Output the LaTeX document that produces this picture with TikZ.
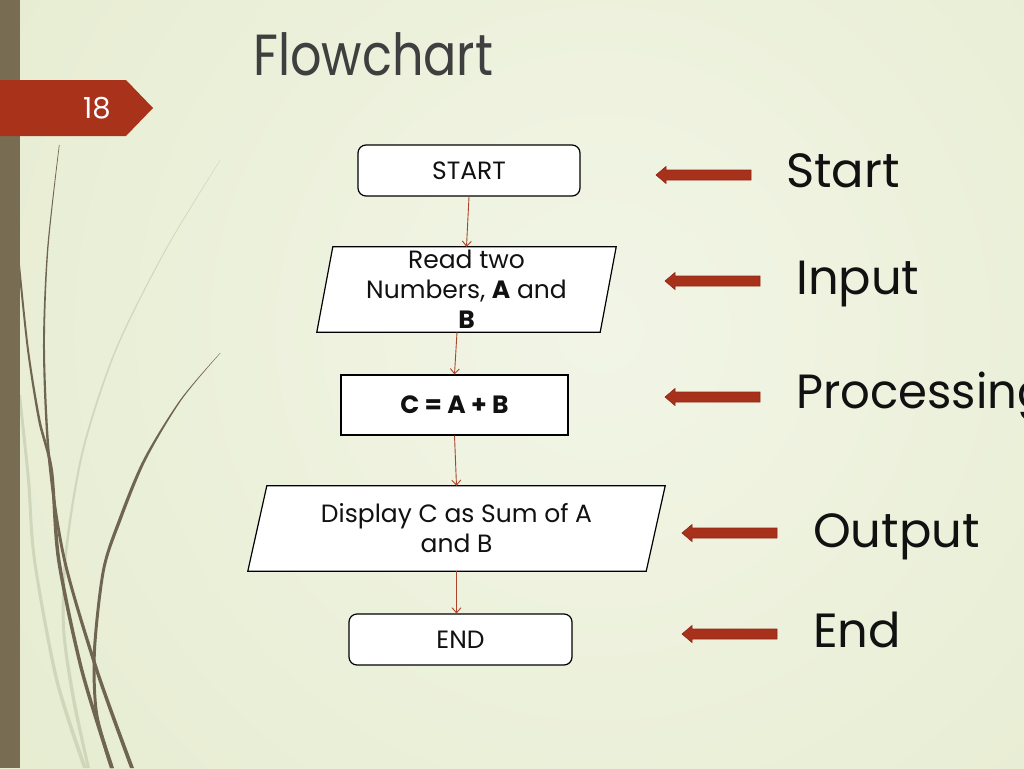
\documentclass[tikz,border=0pt]{standalone}
\usepackage{fontspec}
\setmainfont{Poppins}
\usetikzlibrary{calc,arrows.meta}
\definecolor{bgin}{HTML}{F2F5E6}
\definecolor{bgout}{HTML}{DDE6C0}
\definecolor{barcol}{HTML}{786C52}
\definecolor{bannercol}{HTML}{A9321A}
\definecolor{grassdark}{HTML}{6F6550}
\definecolor{grasslight}{HTML}{C6CDB0}
\definecolor{conncol}{HTML}{A8452C}
\definecolor{blockcol}{HTML}{A8311C}
\definecolor{blockedge}{HTML}{8E2816}
\definecolor{titlecol}{HTML}{3F3F3F}
\definecolor{textcol}{HTML}{111111}
\pgfdeclarelayer{back}
\pgfdeclarelayer{mid}
\pgfsetlayers{back,mid,main}
\tikzset{
  nodefont/.style={font=\fontsize{25}{30}\selectfont, text=textcol},
  termbox/.style={nodefont, draw=black, line width=1.2pt, fill=white, rounded corners=8pt,
    minimum height=51pt, inner sep=0pt},
  procbox/.style={nodefont, font=\bfseries\fontsize{25}{30}\selectfont, draw=black, line width=1.2pt,
    fill=white, minimum height=60pt, inner sep=0pt},
  iocore/.style={nodefont, minimum height=85pt, inner sep=0pt, align=center},
  iobox/.style={draw=black, line width=1.2pt, fill=white},
  conn/.style={draw=conncol, line width=0.9pt, -{Straight Barb[length=5pt,width=9pt]}},
  sidetext/.style={font=\fontsize{48}{58}\selectfont, text=textcol, anchor=base west, inner sep=0pt},
  blockarrow/.pic={\fill[blockcol, draw=blockedge, line width=0.6pt]
     (0,0) -- (10,-8.5) -- (10,-5) -- (95,-5) -- (95,5) -- (10,5) -- (10,8.5) -- cycle;},
  grassd/.style={fill=grassdark},
  grassl/.style={fill=grasslight, opacity=0.7},
}
\begin{document}
\begin{tikzpicture}[x=1pt,y=-1pt]
\useasboundingbox (0,0) rectangle (1024,768);
\begin{scope}
\clip (0,0) rectangle (1024,768);
\begin{pgfonlayer}{back}
% background
\fill[bgout] (0,0) rectangle (1024,768);
\shade[inner color=bgin, outer color=bgout] (600,330) circle (1300);
% grass blades
\fill[grassl] plot[smooth] coordinates {(220,160) (165,250) (115,350) (82,450) (65,550) (62,627) (72,700) (87,768)}
  -- plot[smooth] coordinates {(90,768) (75.5,700) (65,627) (67.5,550) (84,450) (116.5,350) (166,250) (220.5,160)} -- cycle;
\fill[grassl] plot[smooth] coordinates {(18,395) (27,480) (33,560) (55,680) (83,768)}
  -- plot[smooth] coordinates {(87,768) (58.5,680) (36,560) (30,480) (21,395)} -- cycle;
\fill[grassd] plot[smooth] coordinates {(59,145) (47,250) (43,350) (48,460) (63,560) (95,670) (130,768)}
  -- plot[smooth] coordinates {(134,768) (98.5,670) (66,560) (50.5,460) (45,350) (48.3,250) (59.6,145)} -- cycle;
\fill[grassd] plot[smooth] coordinates {(18,265) (27,350) (38,420) (50,470) (57,560) (80,670) (110,768)}
  -- plot[smooth] coordinates {(114,768) (83.5,670) (60.5,560) (53,470) (40.5,420) (29,350) (20,265)} -- cycle;
\fill[grassd] plot[smooth] coordinates {(220,353) (180,400) (143,460) (118,520) (102,570) (93,650) (95,713) (110,768)}
  -- plot[smooth] coordinates {(113.5,768) (98,713) (96,650) (105,570) (121.5,520) (146,460) (181.5,400) (220.5,353)} -- cycle;
% left bar and banner
\fill[barcol] (0,0) rectangle (20,768);
\fill[bannercol] (0,80) -- (126,80) -- (153,108) -- (126,136) -- (0,136) -- cycle;
\end{pgfonlayer}
\node[font=\fontsize{29}{34}\selectfont, text=white, inner sep=0pt] (pagenum) at (97,108) {18};
% title
\node[font=\fontsize{58}{70}\selectfont, text=titlecol, anchor=base west, inner sep=0pt] (title) at (253,75) {\scalebox{0.85}[1]{Flowchart}};
% flowchart nodes
\node[termbox, minimum width=222pt] (start) at (469,170.5) {START};
\node[iocore, minimum width=283pt] (read) at (466.5,289.5) {Read two\\Numbers, \textbf{A} and\\\textbf{B}};
\node[procbox, minimum width=227pt] (proc) at (454.5,405) {C = A + B};
\node[iocore, minimum width=398pt] (disp) at (456.5,528.5) {Display C as Sum of A\\and B};
\node[termbox, minimum width=223pt] (stop) at (460.5,639.5) {END};
% parallelogram outlines behind their texts
\begin{pgfonlayer}{mid}
\draw[iobox] ($(read.north west)+(8,0)$) -- ($(read.north east)+(8,0)$) -- ($(read.south east)+(-8,0)$) -- ($(read.south west)+(-8,0)$) -- cycle;
\draw[iobox] ($(disp.north west)+(9.5,0)$) -- ($(disp.north east)+(9.5,0)$) -- ($(disp.south east)+(-9.5,0)$) -- ($(disp.south west)+(-9.5,0)$) -- cycle;
\end{pgfonlayer}
% connectors
\draw[conn] (start.south) -- (read.north);
\draw[conn] ($(read.south)+(-9.5,0)$) -- (proc.north);
\draw[conn] (proc.south) -- (disp.north);
\draw[conn] (disp.south) -- (disp.south |- stop.north);
% block arrows and labels
\pic (arrstart) at (656,175) {blockarrow};
\pic (arrinput) at (665,281) {blockarrow};
\pic (arrproc) at (665,397) {blockarrow};
\pic (arrout) at (682,533) {blockarrow};
\pic (arrend) at (682,634) {blockarrow};
\node[sidetext] (lstart) at (786,187) {Start};
\node[sidetext] (linput) at (796,294) {Input};
\node[sidetext] (lproc) at (796,408) {\scalebox{0.97}[1]{Processing}};
\node[sidetext] (lout) at (813,547) {Output};
\node[sidetext] (lend) at (813,647) {End};
\end{scope}
\end{tikzpicture}
\end{document}
